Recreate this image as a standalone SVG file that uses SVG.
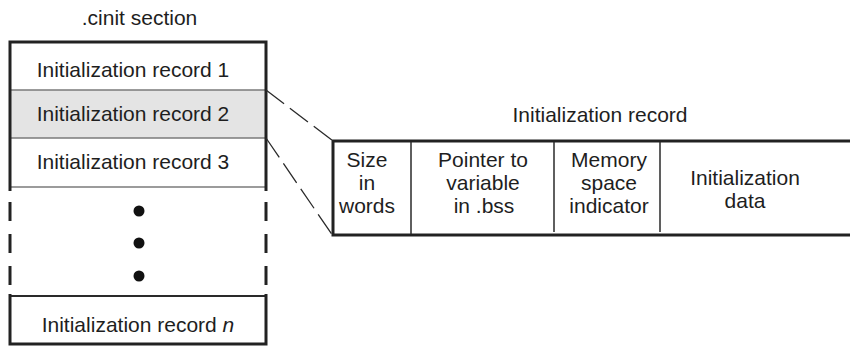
<svg xmlns="http://www.w3.org/2000/svg" width="850" height="346" viewBox="0 0 850 346">
  <style>
    text { font-family: "Liberation Sans", Arial, sans-serif; font-size: 21px; fill: #1e1e1e; text-anchor: middle; }
    .edge { stroke: #222; stroke-width: 3; fill: none; }
    .row-sep { stroke: #7a7a7a; stroke-width: 1.6; fill: none; }
    .col-sep { stroke: #2a2a2a; stroke-width: 1.5; fill: none; }
    .lead { stroke: #2a2a2a; stroke-width: 1.3; fill: none; }
    .dot { fill: #111; }
  </style>

  <!-- .cinit section: stack of initialization records -->
  <g id="cinit-section">
    <text x="139.5" y="25">.cinit section</text>
    <rect x="10" y="42" width="256" height="48" fill="#ffffff"/>
    <rect x="10" y="90" width="256" height="48" fill="#e4e4e4"/>
    <rect x="10" y="138" width="256" height="49" fill="#ffffff"/>
    <line class="row-sep" x1="10" y1="90" x2="266" y2="90"/>
    <line class="row-sep" x1="10" y1="138" x2="266" y2="138"/>
    <line class="row-sep" x1="10" y1="187" x2="266" y2="187"/>
    <path class="edge" d="M10,191 V42 H266 V191"/>
  </g>

  <g id="record-1">
    <text x="133" y="77">Initialization record 1</text>
  </g>
  <g id="record-2">
    <text x="133" y="121">Initialization record 2</text>
  </g>
  <g id="record-3">
    <text x="133" y="169">Initialization record 3</text>
  </g>

  <!-- elided records -->
  <g id="ellipsis">
    <line class="edge" x1="10" y1="202" x2="10" y2="285" stroke-dasharray="19 13"/>
    <line class="edge" x1="266" y1="202" x2="266" y2="285" stroke-dasharray="19 13"/>
    <circle class="dot" cx="139" cy="211" r="5.5"/>
    <circle class="dot" cx="139" cy="243" r="5.5"/>
    <circle class="dot" cx="139" cy="276" r="5.5"/>
  </g>

  <g id="record-n">
    <rect x="10" y="296" width="256" height="48" fill="#ffffff"/>
    <line x1="10" y1="296" x2="266" y2="296" stroke="#2a2a2a" stroke-width="2"/>
    <path class="edge" d="M10,294 V344 H266 V294"/>
    <text x="138" y="332">Initialization record <tspan font-style="italic">n</tspan></text>
  </g>

  <!-- expansion leads from record 2 to its layout -->
  <g id="connectors">
    <line class="lead" x1="266" y1="90" x2="333" y2="141" stroke-dasharray="22.7 7.3"/>
    <line class="lead" x1="266" y1="138" x2="333" y2="236" stroke-dasharray="23.5 7.3"/>
  </g>

  <!-- layout of one initialization record -->
  <g id="record-layout">
    <text x="600" y="122">Initialization record</text>
    <rect x="333" y="141" width="530" height="94" fill="#e6e6e6" class="edge"/>
    <line class="col-sep" x1="411" y1="142" x2="411" y2="234"/>
    <line class="col-sep" x1="554" y1="142" x2="554" y2="232"/>
    <line class="col-sep" x1="660" y1="142" x2="660" y2="232"/>
  </g>

  <g id="field-size">
    <text x="367" y="167">Size</text>
    <text x="367" y="190">in</text>
    <text x="367" y="213">words</text>
  </g>
  <g id="field-pointer">
    <text x="483" y="167">Pointer to</text>
    <text x="483" y="190">variable</text>
    <text x="484" y="213">in .bss</text>
  </g>
  <g id="field-memspace">
    <text x="609" y="167">Memory</text>
    <text x="609" y="190">space</text>
    <text x="609" y="213">indicator</text>
  </g>
  <g id="field-data">
    <text x="745" y="185">Initialization</text>
    <text x="745" y="208">data</text>
  </g>
</svg>
